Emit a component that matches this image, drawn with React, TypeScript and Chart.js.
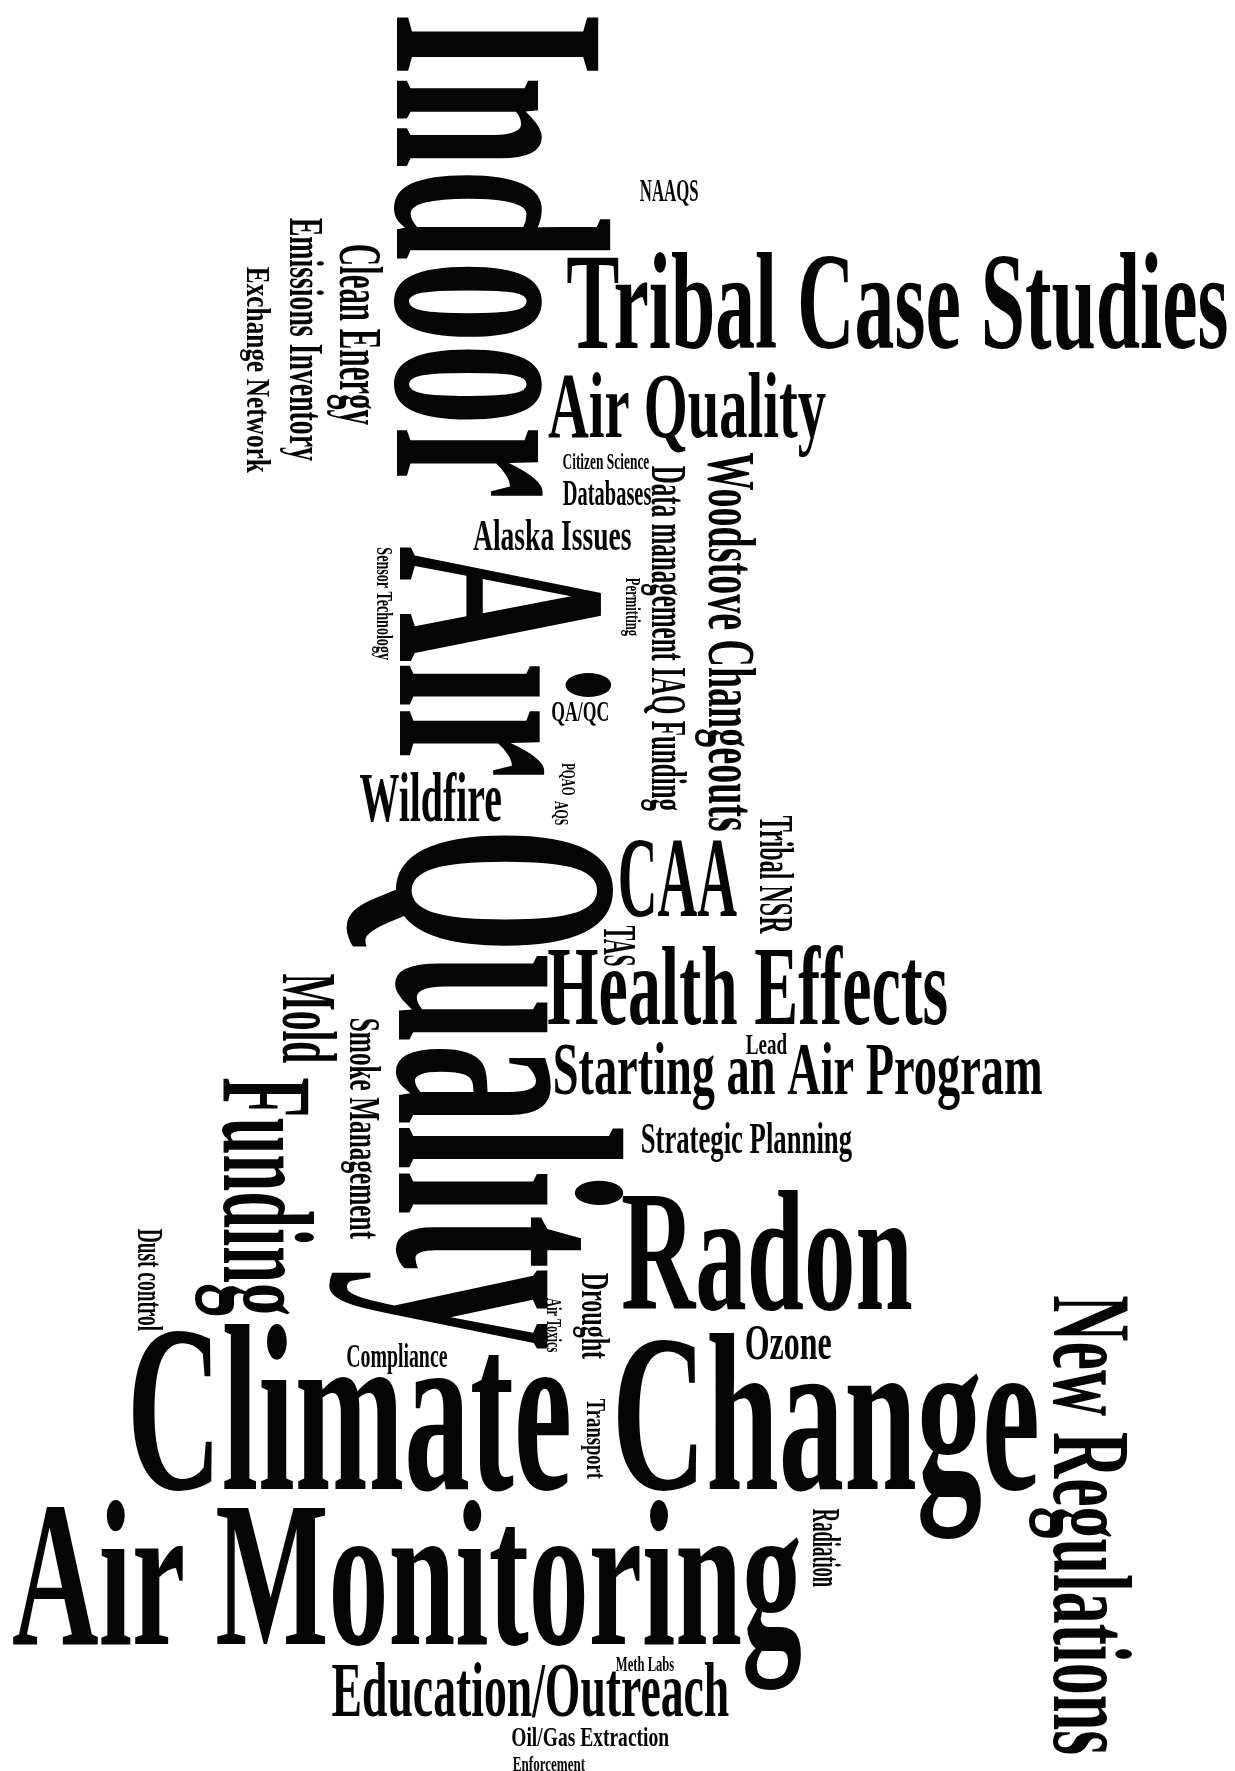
import { useEffect, useRef } from "react";
import { Chart, registerables } from "chart.js";

Chart.register(...registerables);

// Word cloud terms and the ink box each one occupies, in the chart's value space
const words = [
  "Indoor", "Air", "Quality", "NAAQS", "Tribal Case Studies", "Air Quality",
  "Clean Energy", "Emissions Inventory", "Exchange Network", "Citizen Science",
  "Databases", "Alaska Issues", "Data management IAQ Funding", "Woodstove Changeouts",
  "Permitting", "QA/QC", "PQAO", "AQS", "Tribal NSR", "Sensor Technology",
  "Wildfire", "CAA", "TAS", "Health Effects", "Lead", "Starting an Air Program",
  "Strategic Planning", "Radon", "Mold", "Smoke Management", "Funding",
  "Dust control", "Drought", "Air Toxics", "Ozone", "Compliance", "Climate",
  "Transport", "Change", "Radiation", "New Regulations", "Air Monitoring",
  "Education/Outreach", "Meth Labs", "Oil/Gas Extraction", "Enforcement",
];
const boxLeft = [
  397, 400, 327, 640, 567, 548, 330, 280, 237, 563, 563, 473, 640, 694, 619, 552,
  559, 552, 760, 372, 360, 620, 604, 548, 746, 555, 642, 622, 283, 340, 192, 138,
  575, 547, 746, 347, 132, 582, 617, 813, 1024, 12, 332, 616, 512, 513,
];
const boxTop = [
  17, 546, 834, 180, 253, 373, 245, 218, 267, 453, 480, 519, 466, 453, 578, 701,
  763, 801, 816, 548, 771, 840, 926, 944, 1033, 1043, 1123, 1191, 974, 1019, 1078, 1229,
  1273, 1298, 1326, 1344, 1325, 1399, 1334, 1509, 1296, 1501, 1662, 1656, 1727, 1756,
];
const boxRight = [
  609, 610, 622, 698, 1227, 826, 383, 323, 270, 649, 651, 631, 687, 755, 640, 608,
  575, 567, 794, 393, 501, 737, 634, 947, 787, 1042, 852, 912, 337, 380, 313, 163,
  610, 562, 831, 447, 569, 605, 1037, 840, 1132, 802, 729, 674, 669, 585,
];
const boxBottom = [
  497, 776, 1350, 203, 348, 452, 425, 461, 473, 469, 505, 550, 811, 831, 636, 726,
  795, 825, 934, 660, 821, 916, 966, 1024, 1054, 1113, 1163, 1309, 1063, 1239, 1316, 1331,
  1359, 1352, 1359, 1374, 1489, 1479, 1541, 1587, 1754, 1694, 1718, 1671, 1750, 1771,
];
// baseline of each term: y for horizontal terms, x for vertical terms
const baseline = [
  397, 400, 399, 201, 348, 437, 340, 290, 247, 469, 505, 550, 652, 709, 626, 721,
  562, 555, 760, 377, 821, 916, 604, 1024, 1054, 1094, 1153, 1309, 283, 350, 224, 138,
  582, 547, 1359, 1367, 1489, 587, 1489, 813, 1054, 1644, 1716, 1671, 1746, 1771,
];
// 1 = reads top-to-bottom (rotated 90° clockwise), 0 = horizontal
const vertical = [
  1, 1, 1, 0, 0, 0, 1, 1, 1, 0, 0, 0, 1, 1, 1, 0,
  1, 1, 1, 1, 0, 0, 1, 0, 0, 0, 0, 0, 1, 1, 1, 1,
  1, 1, 0, 0, 0, 1, 0, 1, 1, 0, 0, 0, 0, 0,
];

const WIDTH = 1235;
const HEIGHT = 1771;
const FONT = 'bold 100px "Liberation Serif", "DejaVu Serif", serif';

const wordCloudPlugin = {
  id: "wordCloud",
  beforeDraw(chart: any) {
    const ctx = chart.ctx;
    ctx.save();
    ctx.fillStyle = "#ffffff";
    ctx.fillRect(0, 0, chart.width, chart.height);
    ctx.restore();
  },
  afterDatasetsDraw(chart: any) {
    const ctx: CanvasRenderingContext2D = chart.ctx;
    const xs = chart.scales.x;
    const ys = chart.scales.y;
    words.forEach((w, i) => {
      const L = xs.getPixelForValue(boxLeft[i]);
      const R = xs.getPixelForValue(boxRight[i]);
      const T = ys.getPixelForValue(boxTop[i]);
      const B = ys.getPixelForValue(boxBottom[i]);
      ctx.save();
      ctx.font = FONT;
      ctx.textAlign = "left";
      ctx.textBaseline = "alphabetic";
      ctx.fillStyle = "#050505";
      const m = ctx.measureText(w);
      const inkW = m.actualBoundingBoxLeft + m.actualBoundingBoxRight;
      const asc = m.actualBoundingBoxAscent;
      if (vertical[i]) {
        const base = xs.getPixelForValue(baseline[i]);
        ctx.translate(R, T);
        ctx.rotate(Math.PI / 2);
        ctx.scale((B - T) / inkW, (R - base) / asc);
      } else {
        const base = ys.getPixelForValue(baseline[i]);
        ctx.translate(L, T);
        ctx.scale((R - L) / inkW, (base - T) / asc);
      }
      ctx.fillText(w, m.actualBoundingBoxLeft, asc);
      ctx.restore();
    });
  },
};

export default function App() {
  const canvasRef = useRef<HTMLCanvasElement | null>(null);

  useEffect(() => {
    document.body.style.margin = "0";
    const canvas = canvasRef.current;
    if (!canvas) return;
    const chart = new Chart(canvas, {
      type: "scatter",
      data: {
        datasets: [
          {
            label: "terms",
            data: words.map((_, i) => ({
              x: (boxLeft[i] + boxRight[i]) / 2,
              y: (boxTop[i] + boxBottom[i]) / 2,
            })),
            pointRadius: 0,
            pointHoverRadius: 0,
          },
        ],
      },
      options: {
        responsive: false,
        animation: false,
        events: [],
        layout: { padding: 0 },
        plugins: {
          legend: { display: false },
          tooltip: { enabled: false },
          title: { display: false },
        },
        scales: {
          x: { type: "linear", min: 0, max: WIDTH, display: false },
          y: { type: "linear", min: 0, max: HEIGHT, reverse: true, display: false },
        },
      },
      plugins: [wordCloudPlugin],
    });
    return () => chart.destroy();
  }, []);

  return (
    <div style={{ width: WIDTH, height: HEIGHT }}>
      <canvas ref={canvasRef} width={WIDTH} height={HEIGHT} style={{ display: "block" }} />
    </div>
  );
}
